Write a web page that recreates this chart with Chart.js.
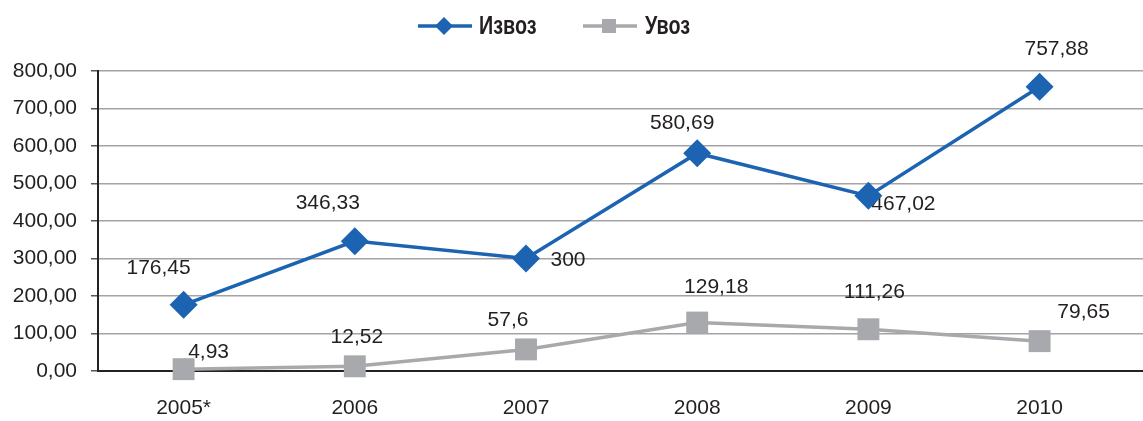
<!DOCTYPE html>
<html><head><meta charset="utf-8">
<script src="https://cdn.jsdelivr.net/npm/chart.js@4/dist/chart.umd.min.js"></script>
<style>html,body{margin:0;padding:0;background:#fff;overflow:hidden}</style>
</head><body>
<canvas id="c" width="1143" height="421"></canvas>
<script>
const categories = ['2005*', '2006', '2007', '2008', '2009', '2010'];
const izvoz = [176.45, 346.33, 300, 580.69, 467.02, 757.88];
const uvoz = [4.93, 12.52, 57.6, 129.18, 111.26, 79.65];
const seriesNames = ['Извоз', 'Увоз'];
const yMin = 0, yMax = 800, yStep = 100;

// label placement (styling, not data)
const labelOffsets = [
  [[-25,-37],[-27,-38],[42,2],[-15,-30],[35,8],[17,-38]],
  [[25,-17],[2,-29],[-18,-29],[19,-35],[6,-37],[44,-29]]
];
const BLUE = '#1c64b2', GRAY = '#a8a9ad', TEXT = '#231f20';
const labelFont = '21px "Liberation Sans", Arial, sans-serif';

const fmt = v => String(v).replace('.', ',');

const labelsPlugin = {
  id: 'dl',
  beforeDatasetsDraw(chart) {
    const ctx = chart.ctx;
    ctx.save();
    ctx.font = labelFont;
    ctx.fillStyle = TEXT;
    ctx.textAlign = 'center';
    ctx.textBaseline = 'middle';
    chart.data.datasets.forEach((ds, di) => {
      const meta = chart.getDatasetMeta(di);
      meta.data.forEach((pt, i) => {
        const o = labelOffsets[di][i];
        ctx.fillText(fmt(ds.data[i].y), pt.x + o[0], pt.y + o[1]);
      });
    });
    ctx.restore();
  },
  afterDraw(chart) {
    const ctx = chart.ctx;
    ctx.save();
    const y = 26;
    // Извоз
    ctx.strokeStyle = BLUE; ctx.lineWidth = 3.5;
    ctx.beginPath(); ctx.moveTo(418, y); ctx.lineTo(472, y); ctx.stroke();
    ctx.fillStyle = BLUE;
    ctx.beginPath(); ctx.moveTo(444, y - 9); ctx.lineTo(453, y); ctx.lineTo(444, y + 9); ctx.lineTo(435, y); ctx.closePath(); ctx.fill();
    // Увоз
    ctx.strokeStyle = GRAY;
    ctx.beginPath(); ctx.moveTo(583, y); ctx.lineTo(637, y); ctx.stroke();
    ctx.fillStyle = GRAY;
    ctx.fillRect(602, y - 7, 14, 14);
    ctx.fillStyle = TEXT;
    ctx.font = 'bold 25px "Liberation Sans", Arial, sans-serif';
    ctx.textAlign = 'left'; ctx.textBaseline = 'middle';
    [[seriesNames[0], 479], [seriesNames[1], 645]].forEach(([t, x]) => {
      ctx.save(); ctx.translate(x, y + 1); ctx.scale(0.79, 1); ctx.fillText(t, 0, 0); ctx.restore();
    });
    ctx.restore();
  }
};

new Chart(document.getElementById('c'), {
  type: 'line',
  data: {
    datasets: [
      { label: seriesNames[0], data: izvoz.map((v, i) => ({x: i, y: v})),
        borderColor: BLUE, backgroundColor: BLUE, borderWidth: 3.5,
        pointStyle: 'rectRot', pointRadius: 14, pointHoverRadius: 14, pointBorderWidth: 0, tension: 0, clip: false },
      { label: seriesNames[1], data: uvoz.map((v, i) => ({x: i, y: v})),
        borderColor: GRAY, backgroundColor: GRAY, borderWidth: 3.5,
        pointStyle: 'rect', pointRadius: 15.5, pointHoverRadius: 15.5, pointBorderWidth: 0, tension: 0, clip: false }
    ]
  },
  options: {
    responsive: false, animation: false, devicePixelRatio: 1,
    layout: { autoPadding: false, padding: { top: 71, left: 0, right: 0, bottom: 0 } },
    plugins: { legend: { display: false }, tooltip: { enabled: false } },
    events: [],
    scales: {
      x: {
        type: 'linear', min: -0.5, max: 5.604,
        afterBuildTicks: s => { s.ticks = categories.map((c, i) => ({ value: i })); },
        afterFit: s => { s.paddingLeft = 0; s.paddingRight = 0; s.height = 50; },
        grid: { display: false, drawTicks: false, tickLength: 0 },
        border: { display: true, color: '#222', width: 2 },
        ticks: { padding: 25, color: TEXT, font: { family: '"Liberation Sans", Arial, sans-serif', size: 21 },
          callback: v => categories[v], maxRotation: 0, autoSkip: false }
      },
      y: {
        min: yMin, max: yMax,
        afterFit: s => { s.width = 98; s.paddingTop = 0; s.paddingBottom = 0; },
        grid: { color: '#a3a3a3', lineWidth: 1.5, drawTicks: true, tickLength: 7, tickColor: '#555' },
        border: { display: true, color: '#222', width: 2 },
        ticks: { stepSize: yStep, padding: 14, color: TEXT, font: { family: '"Liberation Sans", Arial, sans-serif', size: 21 },
          callback: v => v.toFixed(2).replace('.', ',') }
      }
    }
  },
  plugins: [labelsPlugin]
});
</script>
</body></html>
